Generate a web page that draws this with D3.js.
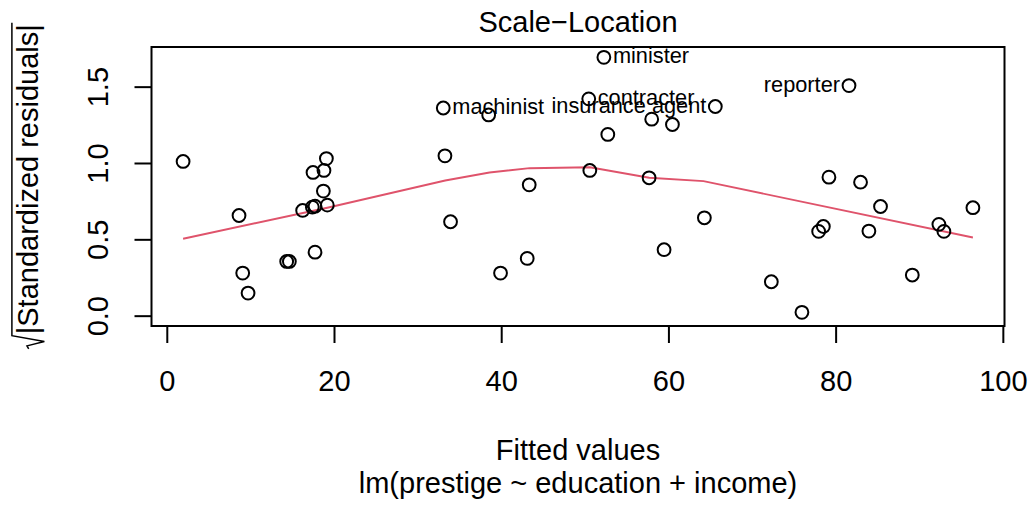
<!DOCTYPE html>
<html>
<head>
<meta charset="utf-8">
<script src="https://cdn.jsdelivr.net/npm/d3@7"></script>
<style>
  body { margin: 0; background: #ffffff; }
  text { font-family: "Liberation Sans", Arial, Helvetica, sans-serif; fill: #000; }
</style>
</head>
<body>
<svg id="chart" width="1032" height="506"></svg>
<script>
// Fitted values of lm(prestige ~ education + income), one per occupation
const fitted = [
  1.95, 8.64, 9.08, 9.72, 14.34, 14.66, 16.25, 17.41, 17.49, 17.73,
  17.73, 18.73, 18.80, 19.09, 19.20, 33.07, 33.27, 33.94, 38.50, 39.92,
  43.11, 43.35, 50.47, 50.60, 52.28, 52.75, 57.69, 58.00, 59.48, 60.48,
  64.30, 65.61, 72.31, 75.97, 77.97, 78.53, 79.20, 81.60, 82.98, 83.98,
  85.37, 89.17, 92.35, 92.95, 96.42
];

// sqrt(|standardized residuals|)
const sqrtStdResid = [
  1.010, 0.656, 0.279, 0.148, 0.355, 0.355, 0.689, 0.711, 0.938, 0.717,
  0.416, 0.816, 0.951, 1.029, 0.724, 1.360, 1.047, 0.615, 1.315, 0.279,
  0.375, 0.857, 1.420, 0.951, 1.692, 1.187, 0.903, 1.287, 0.432, 1.252,
  0.641, 1.370, 0.222, 0.022, 0.552, 0.584, 0.907, 1.507, 0.874, 0.554,
  0.715, 0.266, 0.598, 0.552, 0.707
];

// Occupations flagged with the largest residuals
const idIndex = [15, 22, 24, 31, 37];
const idNames = ["machinist", "contracter", "minister", "insurance agent", "reporter"];

// Lowess smooth through the points
const smoothX = [1.95, 19.20, 33.30, 38.60, 43.40, 50.60, 57.70, 64.20, 96.42];
const smoothY = [0.504, 0.707, 0.885, 0.938, 0.966, 0.972, 0.903, 0.881, 0.512];

const xTicks = [0, 20, 40, 60, 80, 100];
const yTicks = [0, 0.5, 1.0, 1.5];

const titleText = "Scale\u2212Location";
const xLabel = "Fitted values";
const subCaption = "lm(prestige ~ education + income)";
const yLabel = "|Standardized residuals|";

(function draw() {
  // ---- layout ----
  const box = { left: 151.5, right: 1004.5, top: 47, bottom: 326 };
  const fs = 29;          // base text size
  const fsId = fs * 0.75; // point label size
  const tickLen = 17;
  const red = "#DF536B";
  const lw = 2;

  const svg = d3.select("#chart");

  // R-style axis ranges: data range padded by 4% on each side
  const xmin = d3.min(fitted), xmax = d3.max(fitted);
  const xr = xmax - xmin;
  const x = d3.scaleLinear()
    .domain([xmin - 0.04 * xr, xmax + 0.04 * xr])
    .range([box.left, box.right]);

  const ymax = d3.max(sqrtStdResid);
  const y = d3.scaleLinear()
    .domain([0 - 0.04 * ymax, ymax * 1.04])
    .range([box.bottom, box.top]);

  // lowess line
  const line = d3.line().x(d => x(d[0])).y(d => y(d[1]));
  svg.append("path")
    .datum(d3.zip(smoothX, smoothY))
    .attr("d", line)
    .attr("fill", "none")
    .attr("stroke", red)
    .attr("stroke-width", 1.9);

  // points
  const pts = d3.zip(fitted, sqrtStdResid);
  svg.append("g").selectAll("circle")
    .data(pts)
    .join("circle")
    .attr("cx", d => x(d[0]))
    .attr("cy", d => y(d[1]))
    .attr("r", 6.4)
    .attr("fill", "none")
    .attr("stroke", "#000")
    .attr("stroke-width", lw);

  // point labels: right of the point in the left half of the labelled range, left otherwise
  const idX = idIndex.map(i => fitted[i]);
  const idMid = (d3.min(idX) + d3.max(idX)) / 2;
  svg.append("g").selectAll("text")
    .data(idIndex)
    .join("text")
    .attr("x", i => fitted[i] > idMid ? x(fitted[i]) - 9 : x(fitted[i]) + 9)
    .attr("y", i => y(sqrtStdResid[i]) + 0.28 * fsId)
    .attr("text-anchor", i => fitted[i] > idMid ? "end" : "start")
    .attr("font-size", fsId)
    .text((i, k) => idNames[k]);

  // plot box
  svg.append("rect")
    .attr("x", box.left).attr("y", box.top)
    .attr("width", box.right - box.left).attr("height", box.bottom - box.top)
    .attr("fill", "none").attr("stroke", "#000").attr("stroke-width", lw);

  // x axis
  const gx = svg.append("g")
    .attr("transform", `translate(0,${box.bottom})`)
    .call(d3.axisBottom(x).tickValues(xTicks).tickSize(tickLen).tickSizeOuter(0).tickFormat(d3.format("d")));
  gx.attr("font-family", null);
  gx.select(".domain").remove();
  gx.selectAll(".tick line").attr("stroke", "#000").attr("stroke-width", lw);
  gx.selectAll(".tick text")
    .attr("y", 64.5).attr("dy", null)
    .attr("font-size", fs)
    .attr("fill", "#000");

  // y axis, labels parallel to the axis
  const gy = svg.append("g")
    .attr("transform", `translate(${box.left},0)`)
    .call(d3.axisLeft(y).tickValues(yTicks).tickSize(tickLen).tickSizeOuter(0).tickFormat(d3.format(".1f")));
  gy.attr("font-family", null);
  gy.select(".domain").remove();
  gy.selectAll(".tick line").attr("stroke", "#000").attr("stroke-width", lw);
  gy.selectAll(".tick text")
    .attr("x", 0).attr("y", 0).attr("dy", null)
    .attr("transform", `translate(${108 - box.left},0) rotate(-90)`)
    .attr("text-anchor", "middle")
    .attr("font-size", fs)
    .attr("fill", "#000");

  const midX = (box.left + box.right) / 2;

  // title and axis captions
  svg.append("text").attr("x", midX).attr("y", 32).attr("text-anchor", "middle")
    .attr("font-size", fs).text(titleText);
  svg.append("text").attr("x", midX).attr("y", 460).attr("text-anchor", "middle")
    .attr("font-size", fs).text(xLabel);
  svg.append("text").attr("x", midX).attr("y", 493).attr("text-anchor", "middle")
    .attr("font-size", fs).text(subCaption);

  // y label: sqrt(|Standardized residuals|) with a drawn radical
  const midY = (box.top + box.bottom) / 2;
  const gl = svg.append("g").attr("transform", `translate(38,${midY}) rotate(-90)`);
  const lt = gl.append("text").attr("font-size", fs).attr("x", 0).attr("y", 0).text(yLabel);
  const tw = lt.node().getComputedTextLength();
  const radW = 0.5 * fs;
  const total = radW + tw;
  const s = -total / 2;
  lt.attr("x", s + radW);
  const barY = -0.9 * fs;
  gl.append("path")
    .attr("d", `M${s},${-0.32 * fs} L${s + 0.1 * fs},${-0.38 * fs} L${s + 0.25 * fs},${0.22 * fs} L${s + radW - 0.05 * fs},${barY} L${s + total + 0.05 * fs},${barY}`)
    .attr("fill", "none").attr("stroke", "#000").attr("stroke-width", 1.5);
})();
</script>
</body>
</html>
